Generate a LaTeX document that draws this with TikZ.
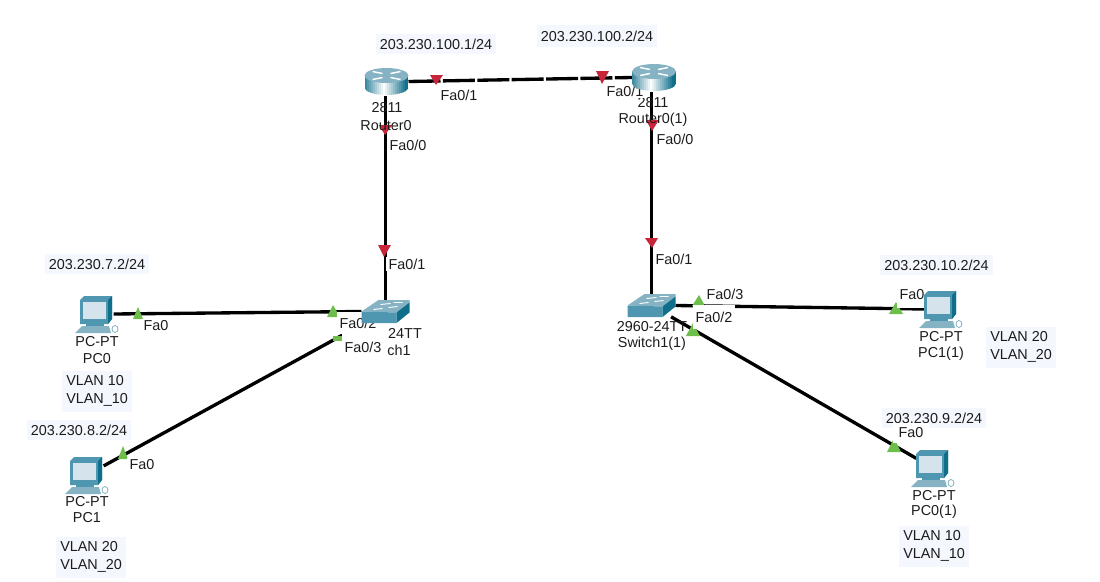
\documentclass[tikz,border=0pt]{standalone}
\usepackage{fontspec}
\setmainfont{Liberation Sans}
\definecolor{redmark}{HTML}{C8243A}
\definecolor{greenmark}{HTML}{6DBE4B}
\definecolor{notebg}{HTML}{F5F7FE}
\definecolor{ink}{HTML}{1C1C1C}
\definecolor{tealdark}{HTML}{0F6F8A}
\definecolor{tealmid}{HTML}{4F97B0}
\definecolor{teallight}{HTML}{86B3C4}
\definecolor{screenc}{HTML}{D5E4EC}
\tikzset{
  lbl/.style={text=ink,font=\fontsize{10.8}{13.5}\selectfont,inner sep=0pt},
  devlabel/.style={lbl},
  port/.style={lbl,fill=white,inner xsep=2pt,inner ysep=1.5pt},
  notebox/.style={lbl,fill=notebg,inner xsep=3pt,inner ysep=3.5pt,align=left},
  link/.style={draw=black,line width=2.5pt},
  devbox/.style={inner sep=0pt,outer sep=0pt,minimum width=#1},
  rbox/.style={devbox=33pt,minimum height=21pt},
  sbox/.style={devbox=36pt,minimum height=17pt},
  pbox/.style={devbox=25pt,minimum height=21pt},
  redtri/.style={fill=redmark,draw=none},
  greentri/.style={fill=greenmark,draw=none},
  routericon/.pic={
    \begin{scope}
      \clip (-22,-6) -- (-22,6) arc[start angle=180,end angle=0,x radius=22,y radius=7.5] -- (22,-6) -- cycle;
      \foreach \i in {0,...,21} {
        \pgfmathsetmacro\mixval{min(100,abs(\i-9)*9)}
        \fill[tealdark!\mixval!white] (-22+2*\i,-14) rectangle ++(2.4,30);
      }
    \end{scope}
    \fill[teallight] (0,-6) ellipse[x radius=22,y radius=7.5];
    \draw[white,line width=1.1pt] (-14,-10) -- (-4,-8) (14,-2) -- (4,-4) (-14,-2) -- (-4,-4) (14,-10) -- (4,-8);
  },
  switchicon/.pic={
    \fill[teallight] (-24,0) -- (-7,-11.5) -- (24,-11.5) -- (24,-9) -- (11,1) -- cycle;
    \fill[tealmid] (-24,0) -- (11,1) -- (11,11.5) -- (-24,11.5) -- cycle;
    \fill[tealdark] (11,1) -- (24,-9) -- (24,1) -- (11,11.5) -- cycle;
    \draw[white,line width=.7pt] (-5,-7) -- (5,-8) (8,-9) -- (17,-9) (-12,-2) -- (-3,-3) (3,-4) -- (12,-5);
  },
  pcicon/.pic={
    \fill[tealmid] (-17,-14) -- (-13,-18) -- (15,-18) -- (15,5) -- (11,10) -- (-17,10) -- cycle;
    \fill[tealdark] (11,-14) -- (15,-18) -- (15,5) -- (11,10) -- cycle;
    \fill[screenc] (-14,-12) -- (9,-12) -- (9,5) -- (-14,5) -- cycle;
    \fill[tealmid] (-11,10) -- (7,10) -- (7,13) -- (-11,13) -- cycle;
    \fill[teallight] (-15,12) -- (12,12) -- (14,19) -- (-22,19) -- cycle;
    \draw[teallight,line width=.6pt,fill=white] (18,15) ellipse[x radius=3,y radius=3.5];
  },
}
\begin{document}
\begin{tikzpicture}[x=0.75pt,y=-0.75pt]
\useasboundingbox (0,0) rectangle (1100,582);
% device anchors
\node[rbox] (r0) at (386.5,81.5) {};
\node[rbox] (r1) at (654,77.5) {};
\node[sbox] (s0) at (385.5,311.5) {};
\node[sbox] (s1) at (651.5,305.5) {};
\node[pbox] (p0) at (97,314) {};
\node[pbox] (p1) at (87,475) {};
\node[pbox] (p2) at (941,309) {};
\node[pbox] (p3) at (933,468) {};
% links
\draw[link,dash pattern=on 24pt off 1.8pt] (r0.east) -- (r1.west);
\draw[link] (r0.south -| s0.north) -- (s0.north);
\draw[link] (s1.north |- r1.south) -- (s1.north);
\draw[link] (p0.east) -- (s0.west);
\draw[link] (p1) -- (s0);
\draw[link] (s1.east) -- (p2.west);
\draw[link] (s1) -- (p3);
% port markers
\fill[redtri] (430,75) -- (443,75) -- (436,85) -- cycle;
\fill[redtri] (596,71) -- (609,71) -- (602,84) -- cycle;
\fill[redtri] (379,125) -- (392,125) -- (385,135) -- cycle;
\fill[redtri] (646,120) -- (659,120) -- (652,131) -- cycle;
\fill[redtri] (378,245) -- (391,245) -- (384,257) -- cycle;
\fill[redtri] (645,238) -- (658,238) -- (652,248) -- cycle;
\fill[greentri] (133,319) -- (143,319) -- (138,307) -- cycle;
\fill[greentri] (327,317) -- (340,317) -- (333,305) -- cycle;
\fill[greentri] (118,459) -- (128,459) -- (123,446) -- cycle;
\fill[greentri] (692,306) -- (705,306) -- (699,295) -- cycle;
\fill[greentri] (686,336) -- (700,336) -- (693,323) -- cycle;
\fill[greentri] (889,314) -- (903,314) -- (896,302) -- cycle;
\fill[greentri] (887,452) -- (901,452) -- (894,438) -- cycle;
\fill[greentri] (333,336) rectangle (342,341);
% device labels
\node[devlabel] (l2811a) at (387,108) {2811};
\node[devlabel] (lr0) at (386,126) {Router0};
\node[devlabel] (l2811b) at (653,103) {2811};
\node[devlabel] (lr1) at (653,120) {Router0(1)};
\node[devlabel] (lptp0) at (97,342) {PC-PT};
\node[devlabel] (lp0) at (97,359) {PC0};
\node[devlabel] (lptp1) at (87,502) {PC-PT};
\node[devlabel] (lp1) at (87,518) {PC1};
\node[devlabel] (lptp2) at (941,337) {PC-PT};
\node[devlabel] (lp2) at (941,354) {PC1(1)};
\node[devlabel] (lptp3) at (934,496) {PC-PT};
\node[devlabel] (lp3) at (934,512) {PC0(1)};
\node[devlabel] (ls1a) at (652,327) {2960-24TT};
\node[devlabel] (ls1b) at (652,344) {Switch1(1)};
\node[devlabel] (ls0a) at (405,333) {24TT};
\node[devlabel] (ls0b) at (399,350) {ch1};
% notes
\node[notebox,minimum width=90pt,minimum height=15pt] (n1) at (436,44) {203.230.100.1/24};
\node[notebox,minimum width=90pt,minimum height=16pt] (n2) at (597,36) {203.230.100.2/24};
\node[notebox] (n3) at (97,264) {203.230.7.2/24};
\node[notebox] (n4) at (79,430) {203.230.8.2/24};
\node[notebox] (n5) at (936.5,265) {203.230.10.2/24};
\node[notebox] (n6) at (934,418) {203.230.9.2/24};
\node[notebox,anchor=north west] (v0) at (62,371) {VLAN 10\\VLAN\_10};
\node[notebox,anchor=north west] (v1) at (56,537) {VLAN 20\\VLAN\_20};
\node[notebox,anchor=north west] (v2) at (986,327) {VLAN 20\\VLAN\_20};
\node[notebox,anchor=north west] (v3) at (899,526) {VLAN 10\\VLAN\_10};
% port labels
\node[port] (f1) at (459,95) {Fa0/1};
\node[port] (f2) at (625,91) {Fa0/1};
\node[port] (f3) at (408,145) {Fa0/0};
\node[port] (f4) at (675,139) {Fa0/0};
\node[port] (f5) at (407,264) {Fa0/1};
\node[port] (f6) at (674,259) {Fa0/1};
\node[port,minimum height=16.5pt] (f7) at (358,323) {Fa0/2};
\node[port,minimum height=22pt] (f8) at (363,347) {Fa0/3};
\node[port] (f9) at (725,294) {Fa0/3};
\node[port,minimum height=18pt] (f10) at (714,317) {Fa0/2};
\node[port] (f11) at (156,326) {Fa0};
\node[port] (f12) at (142,465) {Fa0};
\node[port,minimum height=19pt] (f13) at (912,295) {Fa0};
\node[port,minimum height=15pt,inner xsep=4pt] (f14) at (911,433) {Fa0};
% icons
\pic at (r0) {routericon};
\pic at (r1) {routericon};
\pic at (s0) {switchicon};
\pic at (s1) {switchicon};
\pic at (p0) {pcicon};
\pic at (p1) {pcicon};
\pic at (p2) {pcicon};
\pic at (p3) {pcicon};
\end{tikzpicture}
\end{document}
